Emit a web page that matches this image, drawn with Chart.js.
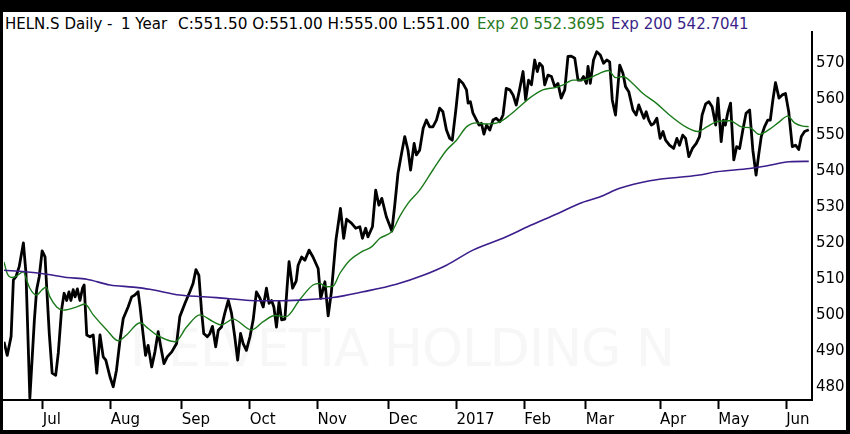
<!DOCTYPE html>
<html><head><meta charset="utf-8">
<script src="https://cdn.jsdelivr.net/npm/chart.js@4.4.1/dist/chart.umd.min.js"></script>
<style>
html,body{margin:0;padding:0;background:#000;width:850px;height:434px;overflow:hidden}
#frame{position:absolute;left:3px;top:12px;width:843px;height:418px;background:#fff}
#wm{position:absolute;left:130px;top:318px;font:52px 'DejaVu Sans';color:#f7f7f7;white-space:pre;letter-spacing:-1px}
.h{position:absolute;top:15px;font:15px 'DejaVu Sans';white-space:pre;line-height:18px;color:#000}
#box{position:absolute;left:0;top:0;width:850px;height:434px}
</style></head>
<body>
<div id="frame"></div>
<div id="wm">HELVETIA HOLDING N</div>
<span class="h" style="left:5px">HELN.S Daily -</span>
<span class="h" style="left:121px">1 Year</span>
<span class="h" style="left:178px;font-size:15.3px">C:551.50 O:551.00 H:555.00 L:551.00</span>
<span class="h" style="left:477px;color:#2a7a1e">Exp 20 552.3695</span>
<span class="h" style="left:611px;color:#3a1f88">Exp 200 542.7041</span>
<div id="box"><canvas id="c" width="850" height="434"></canvas></div>
<script>
// Trading-day index (0 = mid June 2016) for month ticks
const monthTickDays = [12, 33, 55, 76, 97, 119, 140, 161, 180, 203, 221, 242];
const monthTickLabels = ['Jul','Aug','Sep','Oct','Nov','Dec','2017','Feb','Mar','Apr','May','Jun'];
const yTickValues = [480,490,500,510,520,530,540,550,560,570];

const closeDays = [0,1.0,2.2,2.9,3.7,4.7,6.0,6.8,8.0,9.4,10.1,10.9,11.8,12.7,13.2,14.0,14.9,16.0,16.8,17.8,18.6,19.4,20.1,20.7,21.4,22.0,22.7,23.5,24.3,24.8,25.6,26.6,27.6,28.7,29.7,30.7,31.5,32.8,33.8,34.8,35.9,36.9,38.4,39.5,40.5,41.5,42.1,42.9,43.8,44.6,
45.7,46.7,47.7,48.5,49.5,50.5,51.9,53.4,54.4,56.0,57.5,58.5,59.4,60.3,61.1,61.8,62.9,63.7,64.5,65.5,66.3,67.3,68.3,69.4,70.4,71.4,72.3,73.2,74.0,75.0,76.1,77.1,78.1,79.2,80.2,81.2,82.0,82.8,83.5,84.3,85.1,85.9,86.9,87.6,88.2,89.3,90.4,91.0,92.1,93.1,94.4,95.6,97.2,98.0,99.3,100.3,101.3,102.7,104.1,105.1,106.0,107.5,108.8,110.1,110.9,111.9,112.6,114.0,115.0,116.0,116.9,118.3,120.0,120.9,121.9,
123.0,124.0,125.0,125.8,126.9,127.6,128.6,129.7,130.7,131.7,132.7,133.8,134.8,135.8,136.9,137.9,138.7,139.8,140.8,142.0,143.1,143.6,144.3,145.1,146.2,147.0,147.7,148.5,149.3,150.3,151.3,152.3,153.4,154.4,155.4,156.5,157.5,158.5,159.5,160.6,161.4,162.3,163.2,164.2,165.0,165.7,166.6,167.3,168.3,169.4,170.4,171.4,172.4,173.5,174.5,175.5,176.6,177.6,178.6,179.3,180.2,180.7,181.4,182.4,183.4,184.5,
185.5,186.5,187.4,188.2,189.2,190.5,191.5,192.3,193.3,194.6,195.6,196.4,197.2,198.0,198.7,199.5,200.3,201.1,202.0,203.0,203.9,204.7,205.9,207.2,208.2,209.0,210.0,210.9,211.9,213.0,214.2,215.2,216.0,217.1,218.1,219.1,220.2,220.9,221.9,222.6,223.2,224.0,224.8,225.8,226.7,227.6,228.6,229.6,230.7,231.7,232.7,233.5,234.3,235.3,236.3,237.1,237.9,238.7,239.8,240.8,241.8,242.8,243.9,244.9,245.9,246.7,247.7,249.0];
const closeValues = [492.5,488.7,494,509.7,510.6,513.4,520,511.6,476.8,498.6,507,510.6,517.8,516.1,507.8,494.9,483.8,483.2,489.4,501.3,506,504,506.4,504,507,505,507.2,504,507.4,508.3,494.4,493.9,494.4,483.8,494.4,488.3,487.4,482.7,480,484.6,493,499,502.2,505,505.5,506.4,502.2,495.7,488.7,491.5,
485.5,489.7,495.3,491.1,486.4,488.3,489.7,492,499.5,503.2,506.4,508.7,512.6,511,501.3,494.8,493.9,494.8,496.8,491.1,495.7,496.6,500.4,504,500.4,493.9,487.4,494.8,492,490.1,493.9,498.6,506.4,504.6,502.2,507.4,503.2,504,502.2,496.6,503.6,498.6,498.8,507.8,514.8,507.4,509.4,513.8,516.1,515.2,518,516.1,512.9,504.6,509.2,499.7,506.4,520.8,529.6,521.3,526.6,525.5,524.1,524.5,521.3,524.1,521.7,524.5,534.7,530.5,532.4,527.3,523.3,530.5,539.4,
544.9,549.6,545.8,540.3,547.7,544.5,545.8,551.9,554.2,552.3,552.3,554.2,557.5,556.5,551.4,549.1,548.6,557,565.5,564.4,562.6,558.9,559.3,556.1,554.2,552.8,553.3,550.3,552.8,551.4,554.2,554.7,553.7,555.6,563,562.6,561.2,558.4,562.6,567.7,559.8,565.3,564,570.9,567.7,570,569.1,564,566.7,566.3,563.5,564.4,560.3,562.6,571.9,572,571.4,565.3,565.3,566.3,564.4,569.1,564.4,570.9,573.2,572.3,
570,570.9,570.4,559.8,555.6,569.5,567.2,563.5,562.1,557,555.6,558.4,556.5,554.7,556.5,554.2,552.8,553.3,554.7,549.1,551,548.6,547.2,546.3,549.1,547.2,550,549.1,544,546.3,547.7,549.6,555.6,558.7,559.3,557.9,552.8,560.3,548.2,554.2,552.8,556.5,558.9,543.1,546.8,546.3,551.4,556.1,557,545.8,538.9,544.5,549.6,552.3,554.2,554.2,559.8,564.6,560.3,561.2,561.6,556.5,546.8,547.2,546,549.6,551,551.5];

const ema20Days = [0,1.0,2.4,3.9,6.0,7.0,8.0,10.1,11.7,13.0,14.2,16.3,18.3,22.5,25.0,27.6,31.8,35.3,37.9,42.1,44.6,47.2,52.9,56.5,60.6,64.7,67.3,70.9,76.6,80.2,83.8,87.2,91.5,95.6,97.7,99.8,101.8,103.9,107.0,110.6,113.7,116.3,120.1,122.4,125.0,128.6,132.7,136.9,140.0,143.1,146.2,149.3,153.4,156.5,159.5,162.6,166.7,170.9,173.0,176.0,179.1,182.2,184.3,187.0,189.3,191.5,194.6,197.7,201.8,205.9,211.1,214.7,217.3,220.4,224.5,228.6,230.7,233.7,236.8,239.9,242.5,244.6,247.1,249.0];
const ema20Values = [514.7,511.5,510.4,510.8,512,509.7,507.4,505.5,506.9,507.7,505,502.2,501.3,502.2,503,500,495.8,492.8,494.4,497.8,496.2,494.4,492.5,496.6,500,498.1,497.2,498.8,495.8,498.1,499.8,499.5,504.2,508.3,508.7,507.8,508,511.5,515.2,517.5,518.9,521.3,523.3,527.3,531,534.7,540.3,545.8,548.6,552.3,553.4,553.1,553.7,555.6,557.9,560.3,562.6,563.3,564,565.3,565.3,566.3,567.2,568,566,566.3,564.3,561.6,558.9,555.6,552.2,551,552.2,553.7,554,552.2,552.1,550.2,551.6,553.7,555.3,553.4,552.5,552.37];

const ema200Days = [0,6.5,13.2,19.4,25.6,32.8,40.0,45.1,54.4,65.8,76.1,84.3,91.5,101.8,111.1,121.4,129.7,136.9,145.1,155.4,162.0,171.9,178.1,184.3,190.5,199.8,215.2,220.4,230.7,235.8,243.0,249.0];
const ema200Values = [512.4,512,511.3,510.4,509.9,508.3,507.7,507.1,505.5,504.8,504,503.9,504.1,504.8,506.4,508.5,511,513.8,518,521.7,524.5,528.4,531,532.8,535.2,537.3,538.9,539.8,540.7,541.4,542.6,542.7];

const pts = (xs, ys) => xs.map((x, i) => ({x, y: ys[i]}));
const FONT = {family: "'DejaVu Sans'", size: 15};

new Chart(document.getElementById('c'), {
  type: 'line',
  data: {
    datasets: [
      {label: 'Exp 200', data: pts(ema200Days, ema200Values), borderColor: '#3b1d8c', borderWidth: 1.6, pointRadius: 0, cubicInterpolationMode: 'monotone'},
      {label: 'Exp 20', data: pts(ema20Days, ema20Values), borderColor: '#1a7a1a', borderWidth: 1.4, pointRadius: 0, cubicInterpolationMode: 'monotone'},
      {label: 'HELN.S', data: pts(closeDays, closeValues), borderColor: '#000', borderWidth: 2.8, pointRadius: 0, tension: 0, borderJoinStyle: 'round'}
    ]
  },
  options: {
    responsive: false,
    animation: false,
    events: [],
    layout: {padding: {left: 4, top: 32, right: 0, bottom: 4}},
    plugins: {legend: {display: false}, tooltip: {enabled: false}, title: {display: false}},
    scales: {
      x: {
        type: 'linear', position: 'bottom', min: 0, max: 250,
        afterBuildTicks: s => { s.ticks = monthTickDays.map(v => ({value: v})); },
        afterFit: s => { s.height = 30; },
        grid: {drawOnChartArea: false, drawTicks: true, tickLength: 9, tickColor: '#000', tickWidth: 2},
        border: {display: true, color: '#000', width: 2},
        ticks: {
          autoSkip: false, maxRotation: 0, minRotation: 0, align: 'start', padding: 2,
          color: '#000', font: FONT,
          callback: v => { const i = monthTickDays.indexOf(v); return i >= 0 ? monthTickLabels[i] : ''; }
        }
      },
      y: {
        type: 'linear', position: 'right', min: 476.3, max: 578.7,
        afterBuildTicks: s => { s.ticks = yTickValues.map(v => ({value: v})); },
        afterFit: s => { s.width = 38; },
        grid: {display: false, drawTicks: false},
        border: {display: true, color: '#000', width: 2},
        ticks: {padding: 4, color: '#000', font: FONT, callback: v => String(v)}
      }
    }
  }
});
</script>
</body></html>
